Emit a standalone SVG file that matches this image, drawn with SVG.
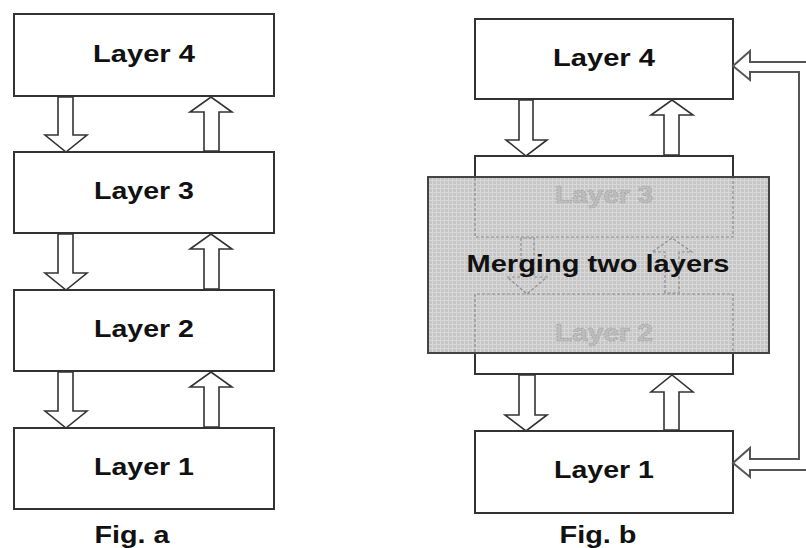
<svg xmlns="http://www.w3.org/2000/svg" width="806" height="548" viewBox="0 0 806 548">
<defs>
<pattern id="grid" width="4" height="4" patternUnits="userSpaceOnUse">
<rect width="4" height="4" fill="#c6c6c6"/>
<path d="M0 0.5H4M0.5 0V4" stroke="#d8d8d8" stroke-width="1"/>
</pattern>
</defs>
<style>
.box{fill:#fff;stroke:#333;stroke-width:2}
.lbl{font-family:"Liberation Sans",Arial,sans-serif;font-weight:bold;font-size:23px;fill:#111;text-anchor:middle}
.arr{fill:#fff;stroke:#333;stroke-width:1.6;stroke-linejoin:miter}
.dash{fill:none;stroke:#8c8c8c;stroke-width:1.2;stroke-dasharray:3 2}
.faint{font-family:"Liberation Sans",Arial,sans-serif;font-weight:bold;font-size:23px;fill:#bdbdbd;stroke:#a4a4a4;stroke-width:0.7;stroke-dasharray:2 1;text-anchor:middle}
.fb{fill:none;stroke:#555;stroke-width:2;stroke-linejoin:miter}
</style>

<g id="figa-layer4"><rect class="box" x="14" y="14" width="260" height="82"/><text class="lbl" x="144" y="62" textLength="102" lengthAdjust="spacingAndGlyphs">Layer 4</text></g>
<g id="figa-layer3"><rect class="box" x="14" y="152" width="260" height="81"/><text class="lbl" x="144" y="199" textLength="100" lengthAdjust="spacingAndGlyphs">Layer 3</text></g>
<g id="figa-layer2"><rect class="box" x="14" y="290" width="260" height="81"/><text class="lbl" x="144" y="337" textLength="100" lengthAdjust="spacingAndGlyphs">Layer 2</text></g>
<g id="figa-layer1"><rect class="box" x="14" y="428" width="260" height="81"/><text class="lbl" x="144" y="475" textLength="100" lengthAdjust="spacingAndGlyphs">Layer 1</text></g>
<g id="figa-caption"><text class="lbl" x="132" y="543" font-size="22" textLength="75" lengthAdjust="spacingAndGlyphs">Fig. a</text></g>

<g id="figb-layer4"><rect class="box" x="475" y="19" width="258" height="80"/><text class="lbl" x="604" y="66" textLength="102" lengthAdjust="spacingAndGlyphs">Layer 4</text></g>
<g id="figb-merged">
<rect class="box" x="475" y="156" width="258" height="218"/>
<rect x="428" y="177" width="341" height="176" fill="url(#grid)" stroke="#444" stroke-width="2"/>
<path class="dash" d="M475 178V237H733V178M475 352V294H733V352"/>
<path class="dash" d="M521 238V277H507L527 294L547 277H534V238Z"/>
<path class="dash" d="M665 293V252H652L672 238L692 252H679V293Z"/>
<text class="faint" x="604" y="203" textLength="98" lengthAdjust="spacingAndGlyphs">Layer 3</text>
<text class="faint" x="604" y="341" textLength="98" lengthAdjust="spacingAndGlyphs">Layer 2</text>
<text class="lbl" x="598" y="272" textLength="263" lengthAdjust="spacingAndGlyphs">Merging two layers</text>
</g>
<g id="figb-layer1"><rect class="box" x="475" y="431" width="258" height="82"/><text class="lbl" x="604" y="478" textLength="100" lengthAdjust="spacingAndGlyphs">Layer 1</text></g>
<g id="figb-caption"><text class="lbl" x="598" y="543" font-size="22" textLength="77" lengthAdjust="spacingAndGlyphs">Fig. b</text></g>

<g id="connectors">
<path class="arr" d="M58 97V135H45L66 152L87 135H73V97Z"/>
<path class="arr" d="M204 151V112H190L211 97L232 112H219V151Z"/>
<path class="arr" d="M58 234V273H45L66 290L87 273H73V234Z"/>
<path class="arr" d="M204 289V249H190L211 234L232 249H219V289Z"/>
<path class="arr" d="M58 372V411H45L66 428L87 411H73V372Z"/>
<path class="arr" d="M204 427V387H190L211 372L232 387H219V427Z"/>

<path class="arr" d="M519 100V140H506L526 156L547 140H533V100Z"/>
<path class="arr" d="M664 155V115H651L672 100L693 115H679V155Z"/>
<path class="arr" d="M519 375V415H505L526 431L547 415H535V375Z"/>
<path class="arr" d="M664 430V392H651L672 375L693 392H679V430Z"/>

<path class="fb" d="M815 62H750V51L733 66L750 80V72H799V459H750V448L733 463L750 477V470H815"/>
</g>
</svg>
